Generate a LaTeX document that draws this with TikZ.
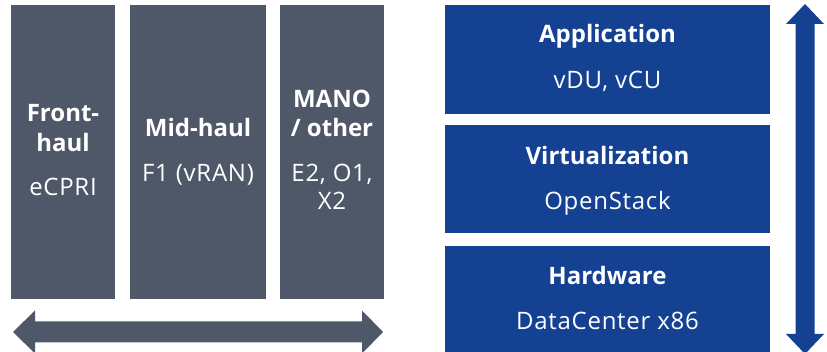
\documentclass[tikz,border=0pt]{standalone}
\usepackage{fontspec}
\setmainfont{Open Sans}
\definecolor{slate}{RGB}{79,88,104}
\definecolor{navy}{RGB}{20,65,145}
\tikzset{
  block/.style={rectangle, inner sep=0pt, outer sep=0pt, anchor=north west},
  graybox/.style={block, fill=slate},
  bluebox/.style={block, fill=navy},
  title/.style={anchor=base, text=white, inner sep=0pt, font=\fontsize{24}{29}\selectfont\bfseries},
  sub/.style={anchor=base, text=white, inner sep=0pt, font=\fontsize{24}{29}\selectfont\addfontfeatures{LetterSpace=3}},
}
\begin{document}
\begin{tikzpicture}[x=1pt,y=-1pt]
\useasboundingbox (0,0) rectangle (827,352);

% interface columns
\node[graybox, minimum width=104pt, minimum height=294pt] (fh) at (11,5) {};
\node[graybox, minimum width=136pt, minimum height=294pt] (mh) at (130,5) {};
\node[graybox, minimum width=104pt, minimum height=294pt] (mo) at (280,5) {};

\node[title] (fh1) at (63,122) {Front-};
\node[title] (fh2) at (63,152) {haul};
\node[sub]   (fh3) at (63,196) {eCPRI};

\node[title] (mh1) at (198,137) {Mid-haul};
\node[sub]   (mh2) at (198,182) {F1 (vRAN)};

\node[title] (mo1) at (332,108) {MANO};
\node[title] (mo2) at (332,137) {/ other};
\node[sub]   (mo3) at (332,182) {E2, O1,};
\node[sub]   (mo4) at (332,210) {X2};

% horizontal double arrow under the columns
\coordinate (hl) at (13,332);
\coordinate (hr) at (383,332);
\fill[slate] (hl) -- (35,310.5) -- (35,321.5) -- (362,321.5) -- (362,310.5) -- (hr)
  -- (362,353.5) -- (362,342.5) -- (35,342.5) -- (35,353.5) -- cycle;

% stack layers
\node[bluebox, minimum width=325pt, minimum height=109pt] (app) at (445,5) {};
\node[bluebox, minimum width=325pt, minimum height=108pt] (virt) at (445,125) {};
\node[bluebox, minimum width=325pt, minimum height=106pt] (hw) at (445,246) {};

\node[title] (app1) at (607.5,43) {Application};
\node[sub]   (app2) at (607.5,89) {vDU, vCU};
\node[title] (virt1) at (607.5,165) {Virtualization};
\node[sub]   (virt2) at (607.5,210) {OpenStack};
\node[title] (hw1) at (607.5,285) {Hardware};
\node[sub]   (hw2) at (607.5,330) {DataCenter x86};

% vertical double arrow beside the stack
\coordinate (vt) at (805,4);
\coordinate (vb) at (805,354);
\fill[navy] (vt) -- (824,24) -- (814.5,24) -- (814.5,334) -- (824,334) -- (vb)
  -- (786,334) -- (795.5,334) -- (795.5,24) -- (786,24) -- cycle;
\end{tikzpicture}
\end{document}
